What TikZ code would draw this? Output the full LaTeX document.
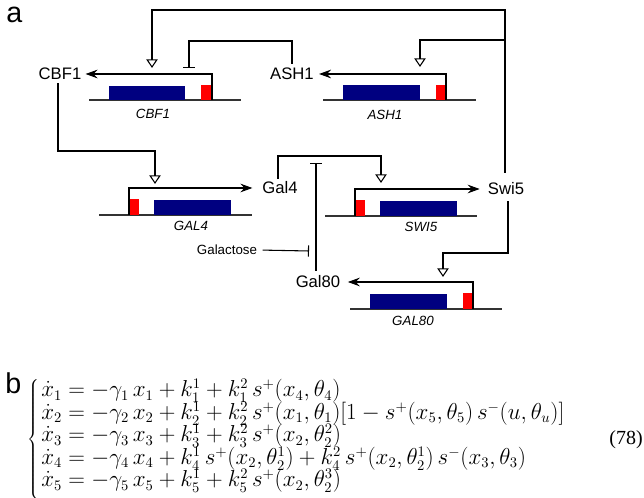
\documentclass[tikz,border=0pt]{standalone}
\usepackage{fontspec}
\newfontfamily\arial{Liberation Sans}
\newfontfamily\serifeq{Liberation Serif}
\usetikzlibrary{arrows.meta}
\definecolor{cdsblue}{RGB}{0,0,128}
\definecolor{promred}{RGB}{255,0,0}
\tikzset{
  lbl/.style={font=\arial\fontsize{12.5}{15}\selectfont, inner sep=0pt, text height=9pt, text depth=0pt},
  gname/.style={font=\arial\itshape\fontsize{10}{12}\selectfont, inner sep=0pt},
  dna/.style={line width=0.8pt, black!80},
  cds/.style={fill=cdsblue},
  prom/.style={fill=promred},
  tss/.style={line width=0.8pt, -{Stealth[length=9pt,width=6.5pt,inset=3pt]}},
  act/.style={line width=0.8pt, -{Triangle[open,length=6.5pt,width=8.5pt]}},
  inh/.style={line width=0.8pt, -{Bar[width=8.5pt]}},
  eqrow/.style={anchor=base west, inner sep=0pt, font=\fontsize{16}{19}\selectfont},
}
\begin{document}
\begin{tikzpicture}[x=0.75pt,y=-0.75pt]
\useasboundingbox (0,0) rectangle (644,498);

% panel labels
\node[anchor=base west, inner sep=0pt, font=\arial\fontsize{21.5}{24}\selectfont] (la) at (6,23) {a};
\node[anchor=base west, inner sep=0pt, font=\arial\fontsize{21.5}{24}\selectfont] (lb) at (5,394) {b};

% protein labels
\node[lbl] (cbf1) at (60,74) {CBF1};
\node[lbl] (ash1) at (292,74) {ASH1};
\node[lbl] (gal4) at (280,188) {Gal4};
\node[lbl] (swi5) at (506,189) {Swi5};
\node[lbl] (gal80) at (318,282) {Gal80};
\node[font=\arial\fontsize{10}{12}\selectfont, inner sep=0pt] (galac) at (227,250) {Galactose};

% gene CBF1
\draw[dna] (89,100) -- (241,100);
\fill[cds] (109,86) rectangle (185,100);
\fill[prom] (201,85) rectangle (212,100);
\node[gname] (gC) at (153,114) {CBF1};
\coordinate (pC) at (212,100);
\draw[tss, shorten >=3pt] (pC) |- (cbf1.east);

% gene ASH1
\draw[dna] (323,100) -- (476,100);
\fill[cds] (343,85) rectangle (420,100);
\fill[prom] (436,85) rectangle (446,100);
\node[gname] (gA) at (385,115) {ASH1};
\coordinate (pA) at (446,100);
\draw[tss, shorten >=3.75pt] (pA) |- (ash1.east);

% gene GAL4
\draw[dna] (99,215) -- (252,215);
\fill[prom] (128,199) rectangle (139,215);
\fill[cds] (154,200) rectangle (231,215);
\node[gname] (gG4) at (191,226) {GAL4};
\coordinate (pG4) at (129,215);
\draw[tss, shorten >=7.3pt] (pG4) |- (gal4.west);

% gene SWI5
\draw[dna] (325,216) -- (477,216);
\fill[prom] (354,200) rectangle (365,216);
\fill[cds] (380,201) rectangle (457,216);
\node[gname] (gS5) at (421,227) {SWI5};
\coordinate (pS5) at (355,216);
\draw[tss, shorten >=6pt] (pS5) |- (swi5.west);

% gene GAL80
\draw[dna] (350,309) -- (502,309);
\fill[cds] (370,294) rectangle (447,309);
\fill[prom] (463,293) rectangle (473,309);
\node[gname] (gG80) at (413,321) {GAL80};
\coordinate (pG80) at (473,309);
\draw[tss, shorten >=5.5pt] (pG80) |- (gal80.east);

% regulatory connectors
\coordinate (aC) at (152,68);
\coordinate (aA) at (420,67);
\coordinate (iC) at (189,68);
\coordinate (aG4) at (155,184);
\coordinate (aS5) at (381,183);
\coordinate (iG) at (316,163);
\coordinate (iGal) at (309,251);
\coordinate (aG80) at (443,277);
\coordinate (br1) at (505,40);

\draw[act, shorten <=7.5pt] ([xshift=-0.75pt]swi5.north) |- (152,10) -- (aC);
\draw[act] (br1) -| (aA);
\draw[inh, shorten <=3pt] (ash1.north) |- (189,41) -- (iC);
\draw[act, shorten <=2.25pt] ([xshift=-1.5pt]cbf1.south) |- (155,151) -- (aG4);
\draw[act, shorten <=2.25pt] ([xshift=-1.5pt]gal4.north) |- (381,156) -- (aS5);
\draw[inh, shorten <=3.75pt] ([xshift=-1.5pt]gal80.north) -- (iG);
\draw[inh, shorten <=4pt] (galac.east) -- (iGal);
\draw[act, shorten <=4.5pt] ([xshift=1.5pt]swi5.south) |- (443,253) -- (aG80);

% equations
\node[anchor=west, inner sep=0pt, font=\fontsize{16}{19}\selectfont] (brace) at (27,440)
  {$\left\{\vrule height 50.4pt depth 42.4pt width 0pt\right.$};
\node[eqrow] (e1) at (41,397) {$\dot x_1 = -\gamma_1\, x_1 + k_1^1 + k_1^2\, s^+(x_4,\theta_4)$};
\node[eqrow] (e2) at (41,419.5) {$\dot x_2 = -\gamma_2\, x_2 + k_2^1 + k_2^2\, s^+(x_1,\theta_1)[1 - s^+(x_5,\theta_5)\, s^-(u,\theta_u)]$};
\node[eqrow] (e3) at (41,442) {$\dot x_3 = -\gamma_3\, x_3 + k_3^1 + k_3^2\, s^+(x_2,\theta_2^2)$};
\node[eqrow] (e4) at (41,464.5) {$\dot x_4 = -\gamma_4\, x_4 + k_4^1\, s^+(x_2,\theta_2^1) + k_4^2\, s^+(x_2,\theta_2^1)\, s^-(x_3,\theta_3)$};
\node[eqrow] (e5) at (41,487) {$\dot x_5 = -\gamma_5\, x_5 + k_5^1 + k_5^2\, s^+(x_2,\theta_2^3)$};
\node[anchor=base east, inner sep=0pt, font=\serifeq\fontsize{15}{18}\selectfont] (eqn) at (643,444.5) {(78)};
\end{tikzpicture}
\end{document}
